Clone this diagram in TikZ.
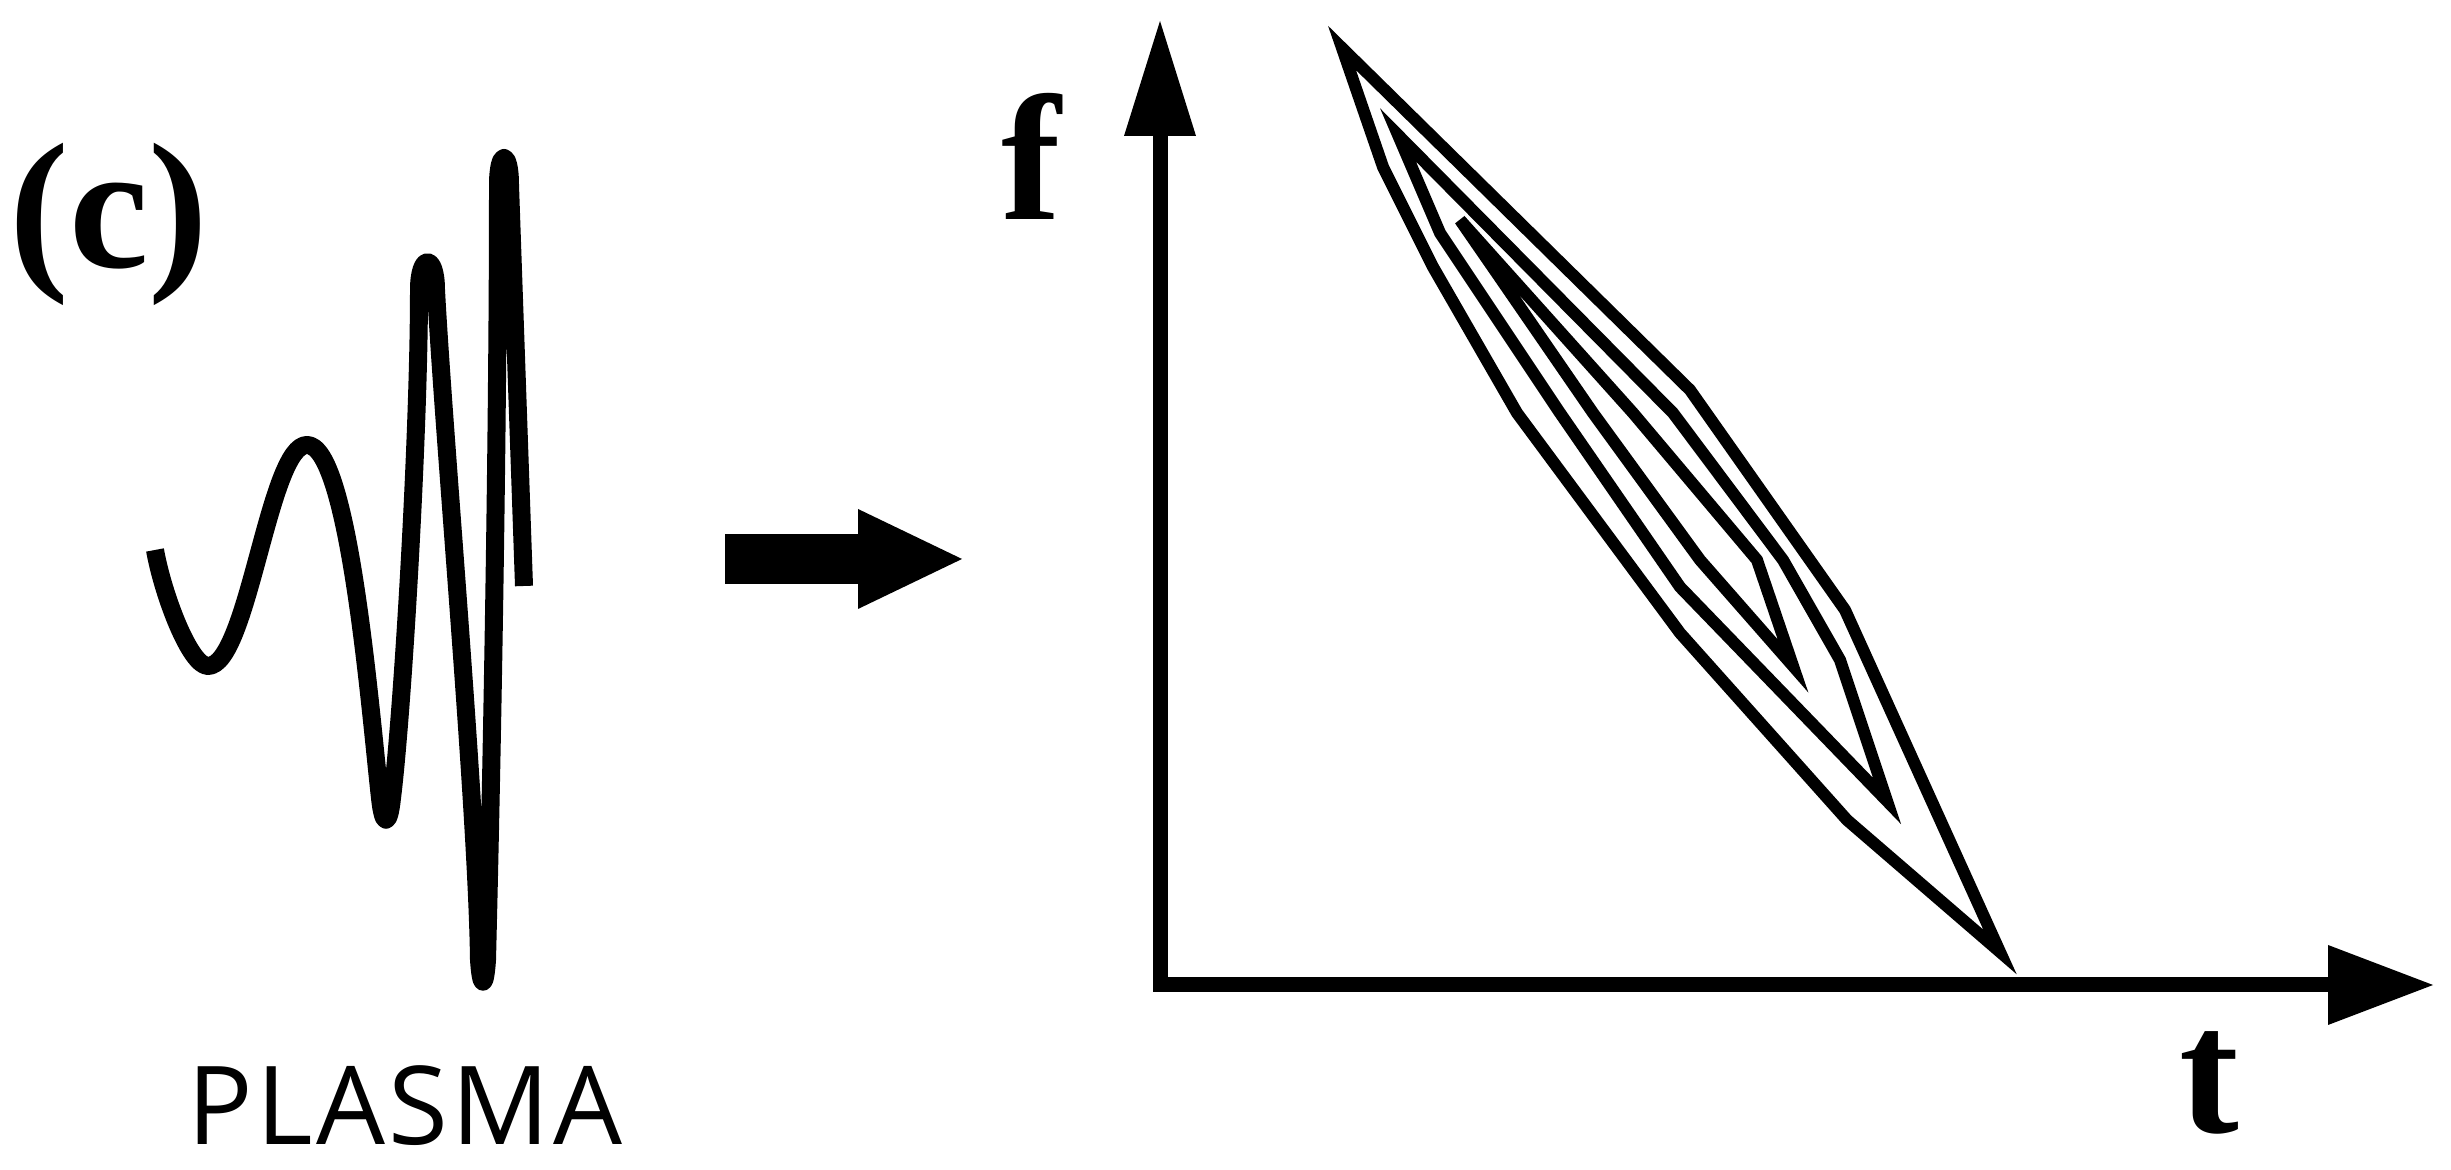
\documentclass[tikz,border=0pt]{standalone}
\usepackage{fontspec}
\setmainfont{Liberation Serif}
\newfontfamily\plasmafont{Open Sans}[LetterSpace=3]
\usepackage{tikz}
\usetikzlibrary{arrows.meta,positioning}
\tikzset{
  lbl/.style={font=\bfseries\fontsize{51}{60}\selectfont,inner sep=0pt},
  tag/.style={font=\plasmafont\fontsize{31}{38}\selectfont,inner sep=0pt},
  wave/.style={line width=0.18cm,line cap=butt,line join=round},
  contour/.style={line width=0.12cm,line join=miter},
  axis/.style={line width=0.15cm,
               {Triangle[length=1.15cm,width=0.72cm,line width=0pt]}-{Triangle[length=1.05cm,width=0.80cm,line width=0pt]}},
  bigarrow/.style={line width=0.50cm,-{Triangle[length=1.04cm,width=1.0cm,line width=0pt]}},
}
\begin{document}
\begin{tikzpicture}[x=1cm,y=1cm]
  \useasboundingbox (0,0) rectangle (24.51,11.70);
  % ── panel label and the plasma tag under the trace ──
  \node[lbl,anchor=base west] (panel) at (0.09,9.02) {(c)};
  \node[tag,anchor=base] (plasma) at (4.05,0.25) {PLASMA};
  % ── chirped trace: two broad swings, then narrow hairpins ──
  \draw[wave] (1.55,6.20) .. controls +(0.08,-0.45) and +(-0.18,0) .. (2.08,5.04)
      .. controls +(0.40,0) and +(-0.38,0) .. (3.07,7.25)
      .. controls +(0.42,0) and +(-0.10,0.90) .. (3.80,3.72)
      .. controls +(0.03,-0.29) and +(-0.03,-0.29) .. (3.92,3.72)   % trough
      .. controls +(0.10,0.80) and +(0,-1.50) .. (4.19,8.80)
      .. controls +(0,0.37) and +(0,0.37) .. (4.36,8.80)           % peak
      .. controls +(0.08,-1.50) and +(-0.02,1.50) .. (4.79,2.10)
      .. controls +(0.02,-0.29) and +(-0.02,-0.29) .. (4.87,2.10)   % trough
      .. controls +(0.05,2.00) and +(0,-2.50) .. (4.98,9.85)
      .. controls +(0,0.36) and +(0,0.36) .. (5.10,9.85)           % peak
      -- (5.24,5.84);
  % ── block arrow: trace -> time-frequency map ──
  \coordinate (bstart) at (7.25,6.11);
  \coordinate (btip)   at (9.62,6.11);
  \draw[bigarrow] (bstart) -- (btip);
  % ── axes ──
  \coordinate (orig) at (11.60,1.85);
  \coordinate (ftip) at (11.60,11.49);
  \coordinate (ttip) at (24.33,1.85);
  \draw[axis] (ftip) -- (orig) -- (ttip);
  \node[lbl,anchor=base] (flab) at (10.31,9.50) {f};
  \node[lbl,anchor=base] (tlab) at (22.09,0.37) {t};
  % ── nested contours, outer to inner ──
  \draw[contour] (13.42,11.22) -- (16.90,7.80) -- (18.45,5.60) -- (20.00,2.18)
        -- (18.47,3.50) -- (16.80,5.37) -- (15.17,7.57) -- (14.33,9.03) -- (13.83,10.03) -- cycle;
  \draw[contour] (13.98,10.35) -- (16.73,7.57) -- (17.83,6.10) -- (18.40,5.10) -- (18.87,3.69)
        -- (16.80,5.83) -- (15.60,7.57) -- (14.40,9.37) -- cycle;
  \draw[contour] (14.60,9.50) -- (16.33,7.57) -- (17.57,6.10) -- (17.93,5.04)
        -- (17.00,6.10) -- (15.93,7.57) -- (14.98,8.95) -- cycle;
\end{tikzpicture}
\end{document}
